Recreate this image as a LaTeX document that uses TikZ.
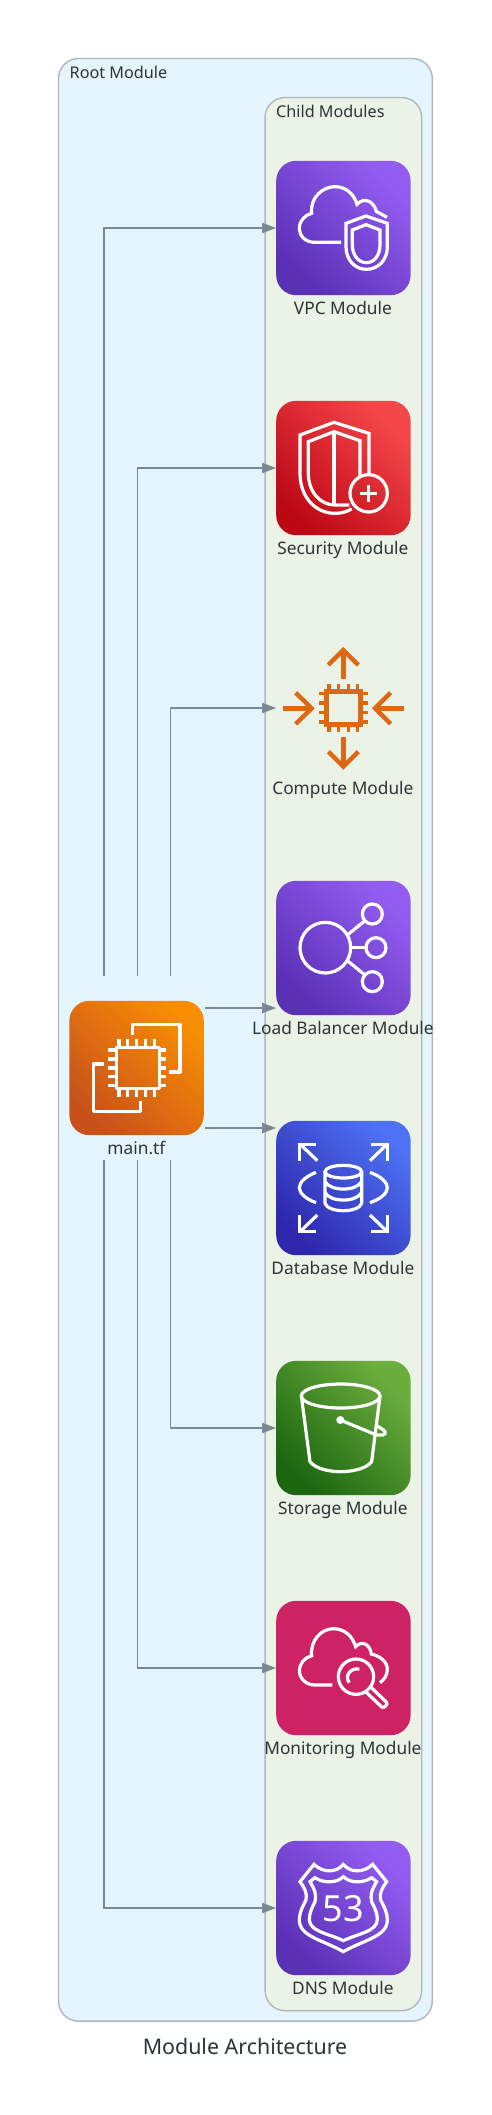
\documentclass[tikz,border=0pt]{standalone}
\usepackage{fontspec}
\setmainfont{Noto Sans}
\usetikzlibrary{arrows.meta}
\definecolor{txt}{HTML}{2D3436}
\definecolor{edgecol}{HTML}{7B8894}
\definecolor{bordercol}{HTML}{AEB6BE}
\definecolor{rootbg}{HTML}{E5F5FD}
\definecolor{childbg}{HTML}{EBF3E7}
\definecolor{orangeicon}{HTML}{DD6713}
\definecolor{purA}{HTML}{5A30B5}
\definecolor{purB}{HTML}{945DF2}
\definecolor{redA}{HTML}{BD0816}
\definecolor{redB}{HTML}{F54749}
\definecolor{bluA}{HTML}{2E27AD}
\definecolor{bluB}{HTML}{4D72F3}
\definecolor{grnA}{HTML}{1B660F}
\definecolor{grnB}{HTML}{6CAE3E}
\definecolor{oraA}{HTML}{C8511B}
\definecolor{oraB}{HTML}{F78E04}
\definecolor{pink}{HTML}{CD2264}
\tikzset{
  clusterbox/.style={draw=bordercol,line width=1.4pt,rounded corners=20pt,inner sep=0pt,outer sep=0pt},
  iconbox/.style={minimum width=134.4pt,minimum height=134.4pt,inner sep=0pt,outer sep=0pt,rounded corners=20pt},
  grad/.style 2 args={left color=#2,right color=#1,shading angle=-45},
  lbl/.style={text=txt,font=\fontsize{17.3}{20}\selectfont,anchor=base,inner sep=0pt},
  clbl/.style={text=txt,font=\fontsize{16.2}{20}\selectfont,anchor=base west,inner sep=0pt},
  link/.style={draw=edgecol,line width=1.4pt,-{Triangle[length=14pt,width=10pt,fill=edgecol]}},
  iconline/.style={draw=white,line width=3.2pt,x=.33333pt,y=-.33333pt,line join=miter},
  orangeline/.style={draw=orangeicon,line width=4.4pt,x=.33333pt,y=-.33333pt,line join=miter}
}
\begin{document}
\begin{tikzpicture}[x=1pt,y=-1pt]
\useasboundingbox (0,0) rectangle (491,2115);
\node[clusterbox,fill=rootbg,minimum width=373.8pt,minimum height=1962.6pt] (root) at (245.4,1039.8) {};
\node[clusterbox,fill=childbg,minimum width=156.6pt,minimum height=1913.2pt] (child) at (343.4,1054.1) {};
\node[clbl] (rootlabel) at (69.5,78) {Root Module};
\node[clbl] (childlabel) at (276,117) {Child Modules};

\node[iconbox,grad={purA}{purB}] (vpc) at (343.4,228) {};
\node[iconbox,grad={redA}{redB}] (sec) at (343.4,468) {};
\node[iconbox] (cmp) at (343.4,708) {};
\node[iconbox,grad={purA}{purB}] (lb) at (343.4,948) {};
\node[iconbox,grad={bluA}{bluB}] (db) at (343.4,1188) {};
\node[iconbox,grad={grnA}{grnB}] (st) at (343.4,1428) {};
\node[iconbox,fill=pink] (mon) at (343.4,1668) {};
\node[iconbox,grad={purA}{purB}] (dns) at (343.4,1908) {};
\node[iconbox,grad={oraA}{oraB}] (main) at (136.6,1068) {};

\node[lbl] (vpcl) at (342.9,314) {VPC Module};
\node[lbl] (secl) at (342.9,554) {Security Module};
\node[lbl] (cmpl) at (342.9,794) {Compute Module};
\node[lbl] (lbl1) at (342.9,1034) {Load Balancer Module};
\node[lbl] (dbl) at (342.9,1274) {Database Module};
\node[lbl] (stl) at (342.9,1514) {Storage Module};
\node[lbl] (monl) at (342.9,1754) {Monitoring Module};
\node[lbl] (dnsl) at (342.9,1994) {DNS Module};
\node[lbl] (mainl) at (136.4,1154.5) {main.tf};
\node[text=txt,font=\fontsize{21.4}{24}\selectfont,anchor=base,inner sep=0pt] (title) at (245,2054.5) {Module Architecture};

\coordinate (upa) at (104,976);
\coordinate (upb) at (137.3,976);
\coordinate (upc) at (170.7,976);
\coordinate (dna) at (104,1159.5);
\coordinate (dnb) at (137.3,1159.5);
\coordinate (dnc) at (170.7,1159.5);
\coordinate (ea) at (205,1008);
\coordinate (eb) at (276.2,1008);
\coordinate (fa) at (205,1128);
\coordinate (fb) at (276.2,1128);
\draw[link] (upa) |- (vpc.west);
\draw[link] (upb) |- (sec.west);
\draw[link] (upc) |- (cmp.west);
\draw[link] (ea) -- (eb);
\draw[link] (fa) -- (fb);
\draw[link] (dnc) |- (st.west);
\draw[link] (dnb) |- (mon.west);
\draw[link] (dna) |- (dns.west);

% VPC icon
\begin{scope}[shift={(260,90)},iconline]
\draw (243,457) -- (165,457) .. controls (135,457) and (118,437) .. (118,415) .. controls (118,392) and (135,375) .. (155,370) .. controls (150,320) and (190,290) .. (225,290) .. controls (260,290) and (283,315) .. (291,343) .. controls (310,322) and (340,330) .. (349,364) -- (381,382);
\draw (318,378) -- (258,400) -- (258,470) .. controls (258,510) and (285,538) .. (319,538) .. controls (355,538) and (382,510) .. (382,470) -- (382,400) -- cycle;
\draw (318,404) -- (277,420) -- (277,465) .. controls (277,495) and (295,518) .. (319,518) .. controls (343,518) and (360,495) .. (360,465) -- (360,420) -- cycle;
\end{scope}
% Security icon
\begin{scope}[shift={(260,390)},iconline]
\draw (327,250) -- (327,130) -- (222,97) -- (120,135) -- (120,250) .. controls (120,320) and (165,370) .. (225,370) .. controls (245,370) and (260,365) .. (275,357);
\draw (300,260) -- (300,152) -- (222,125) -- (145,155) -- (145,250) .. controls (145,305) and (180,345) .. (225,345) -- (268,345);
\draw (222,125) -- (222,345);
\draw (326,310) circle [radius=56];
\draw (300,310) -- (352,310);
\draw (326,284) -- (326,336);
\end{scope}
% Compute icon
\begin{scope}[shift={(260,390)},orangeline]
\draw (199,904) rectangle (301,1004);
\foreach \p in {207,235,265,293} {\draw[line width=3.6pt] (\p,882) -- (\p,900); \draw[line width=3.6pt] (\p,1008) -- (\p,1026);}
\foreach \p in {910,939,968,996} {\draw[line width=3.6pt] (178,\p) -- (195,\p); \draw[line width=3.6pt] (305,\p) -- (323,\p);}
\draw (250,866) -- (250,782);
\draw (205,825) -- (250,780) -- (295,825);
\draw (250,1041) -- (250,1125);
\draw (205,1085) -- (250,1130) -- (295,1085);
\draw (68,955) -- (152,955);
\draw (107,908) -- (155,955) -- (107,1002);
\draw (432,955) -- (348,955);
\draw (392,908) -- (345,955) -- (392,1002);
\end{scope}
% Load balancer icon
\begin{scope}[shift={(260,870)},iconline]
\draw (196,233) circle [radius=76];
\draw (337,132) circle [radius=30];
\draw (348,233) circle [radius=30];
\draw (337,335) circle [radius=30];
\draw (262,195) -- (315,152);
\draw (272,233) -- (318,233);
\draw (262,272) -- (315,315);
\end{scope}
% main.tf icon
\begin{scope}[shift={(50,960)},iconline,line join=round]
\draw (247,225) -- (247,193) -- (390,193) -- (390,336) -- (358,336);
\draw (162,312) -- (130,312) -- (130,454) -- (272,454) -- (272,422);
\draw (200,262) rectangle (328,385);
\foreach \p in {207,233,260,287,313} {\draw (\p,238) -- (\p,262); \draw (\p,385) -- (\p,410);}
\foreach \p in {270,297,324,350,377} {\draw (175,\p) -- (200,\p); \draw (328,\p) -- (347,\p);}
\end{scope}
% Database icon
\begin{scope}[shift={(260,1040)},iconline]
\draw (250,395) ellipse [x radius=55,y radius=19];
\draw (195,395) -- (195,490) .. controls (200,505) and (225,512) .. (250,512) .. controls (275,512) and (300,505) .. (305,490) -- (305,395);
\draw (195,425) .. controls (205,440) and (225,447) .. (250,447) .. controls (275,447) and (295,440) .. (305,425);
\draw (195,458) .. controls (205,473) and (225,480) .. (250,480) .. controls (275,480) and (295,473) .. (305,458);
\draw (172,362) -- (120,312);
\draw (118,362) -- (118,313) -- (168,313);
\draw (330,362) -- (382,312);
\draw (332,313) -- (382,313) -- (382,362);
\draw (172,525) -- (120,575);
\draw (118,525) -- (118,575) -- (168,575);
\draw (330,525) -- (382,575);
\draw (332,575) -- (382,575) -- (382,525);
\draw (168,397) .. controls (135,410) and (118,428) .. (118,443) .. controls (118,458) and (135,476) .. (168,488);
\draw (330,397) .. controls (365,410) and (382,428) .. (382,443) .. controls (382,458) and (365,476) .. (330,488);
\end{scope}
% Storage icon
\begin{scope}[shift={(260,1290)},iconline]
\draw (242,318) ellipse [x radius=118,y radius=36];
\draw (124,318) -- (150,515) .. controls (165,535) and (205,545) .. (242,545) .. controls (280,545) and (320,535) .. (335,515) -- (360,318);
\fill[white] (241,390) circle [radius=12];
\draw (241,390) -- (340,431) .. controls (365,441) and (380,433) .. (375,425) .. controls (370,418) and (355,410) .. (347,406);
\end{scope}
% Monitoring icon
\begin{scope}[shift={(260,1570)},iconline]
\draw (217,345) -- (165,345) .. controls (135,345) and (118,322) .. (118,302) .. controls (118,280) and (135,262) .. (155,257) .. controls (150,210) and (185,176) .. (220,176) .. controls (255,176) and (278,200) .. (287,230) .. controls (305,210) and (330,222) .. (334,252) .. controls (360,258) and (382,275) .. (382,298) .. controls (382,315) and (372,330) .. (360,338);
\draw (288,320) circle [radius=53];
\draw (268,338) .. controls (252,318) and (272,292) .. (298,297);
\draw (333,352) -- (380,397) .. controls (385,403) and (372,416) .. (365,411) -- (318,366);
\end{scope}
% DNS icon
\begin{scope}[shift={(260,1830)},iconline]
\draw (162,103) .. controls (190,130) and (230,128) .. (250,103) .. controls (270,128) and (310,130) .. (338,103) -- (380,155) .. controls (365,175) and (358,190) .. (362,210) .. controls (375,235) and (382,250) .. (382,270) .. controls (382,320) and (310,330) .. (250,365) .. controls (190,330) and (118,320) .. (118,270) .. controls (118,250) and (125,235) .. (138,210) .. controls (142,190) and (135,175) .. (120,155) -- cycle;
\draw (165,143) .. controls (190,160) and (230,160) .. (250,140) .. controls (270,160) and (310,160) .. (335,143) -- (350,155) .. controls (335,180) and (330,195) .. (335,215) .. controls (345,235) and (352,250) .. (352,268) .. controls (352,305) and (295,310) .. (250,332) .. controls (205,310) and (148,305) .. (148,268) .. controls (148,250) and (155,235) .. (165,215) .. controls (170,195) and (165,180) .. (150,155) -- cycle;
\end{scope}
\node[text=white,font=\fontsize{36}{40}\selectfont,inner sep=0pt] (num) at (343.4,1909) {53};
\end{tikzpicture}
\end{document}
